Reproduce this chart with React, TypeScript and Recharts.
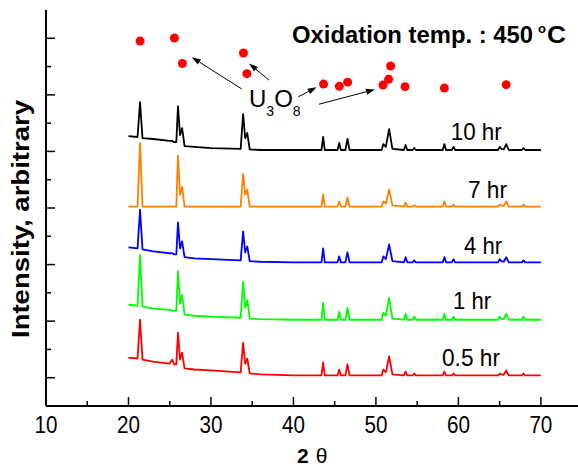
import { ComposedChart, Line, Scatter, XAxis, YAxis, ReferenceLine, ReferenceDot } from 'recharts';

const FONT = '"Liberation Sans", Arial, Helvetica, sans-serif';

// 2-theta grid shared by all five patterns
const angles = [
  20, 21.1, 21.4, 21.7, 23, 25.0, 25.3, 25.55, 25.8, 26.0, 26.25, 26.5, 26.8, 28, 30,
  33.6, 33.9, 34.15, 34.4, 34.7, 36, 40, 43.4, 43.6, 43.8, 45.35, 45.55, 45.75, 46.3, 46.55,
  46.8, 50.7, 50.9, 51.2, 51.6, 52.0, 53.4, 53.6, 53.8, 54.45, 54.65, 54.85, 58.1, 58.3, 58.5,
  59.2, 59.4, 59.6, 64.8, 65.0, 65.2, 65.5, 65.8, 66.1, 67.7, 67.9, 68.1, 70,
];

// intensities above each pattern's own baseline
const hr05 = [
  63, 60, 197, 56, 49, 42, 56, 39, 39, 151, 56, 81, 25, 21, 18,
  11, 116, 42, 60, 7, 4, 0, 0, 46, 0, 0, 21, 0, 0, 39,
  0, 0, 21, 11, 67, 4, 0, 14, 0, 0, 7, 0, 0, 14, 0,
  0, 7, 0, 0, 7, 4, 2, 18, 0, 0, 7, 0, 0,
];
const hr1 = [
  53, 49, 229, 46, 39, 35, 32, 32, 32, 172, 56, 88, 18, 14, 11,
  7, 134, 42, 70, 4, 2, 0, 0, 60, 0, 0, 28, 0, 0, 42,
  0, 0, 25, 14, 77, 4, 0, 21, 0, 0, 11, 0, 0, 21, 0,
  0, 11, 0, 0, 11, 4, 2, 21, 0, 0, 11, 0, 0,
];
const hr4 = [
  53, 49, 186, 46, 39, 32, 32, 28, 28, 141, 49, 74, 18, 14, 11,
  7, 109, 35, 56, 4, 2, 0, 0, 49, 0, 0, 21, 0, 0, 35,
  0, 0, 21, 11, 63, 4, 0, 18, 0, 0, 7, 0, 0, 18, 0,
  0, 11, 0, 0, 11, 4, 2, 18, 0, 0, 7, 0, 0,
];
const hr7 = [
  0, 0, 225, 0, 0, 0, 0, 0, 0, 180, 42, 70, 0, 0, 0,
  0, 116, 42, 60, 0, 0, 0, 0, 42, 0, 0, 18, 0, 0, 32,
  0, 0, 18, 11, 60, 4, 0, 14, 0, 0, 5, 0, 0, 18, 0,
  0, 7, 0, 0, 7, 4, 2, 18, 0, 0, 7, 0, 0,
];
const hr10 = [
  49, 46, 169, 42, 39, 32, 32, 28, 28, 155, 53, 77, 14, 11, 7,
  4, 127, 42, 60, 2, 0, 0, 0, 46, 0, 0, 25, 0, 0, 39,
  0, 0, 21, 11, 74, 4, 0, 18, 0, 0, 7, 0, 0, 21, 0,
  0, 11, 0, 0, 11, 4, 2, 21, 0, 0, 7, 0, 0,
];

// vertical stacking of the patterns
const offsets = [108, 305, 508, 705, 905];
const seriesKeys = ['hr05', 'hr1', 'hr4', 'hr7', 'hr10'];
const seriesNames = ['0.5 hr', '1 hr', '4 hr', '7 hr', '10 hr'];
const seriesColors = ['#ff0000', '#00ff00', '#0000ff', '#ff8000', '#000000'];
const seriesValues = [hr05, hr1, hr4, hr7, hr10];

// U3O8 reflections marked with red dots
const u3o8Angles = [21.41, 25.57, 26.54, 33.94, 34.36, 43.65, 45.56, 46.57, 50.86, 51.54, 51.78, 53.53, 58.3, 65.79];
const u3o8Levels = [1290, 1301, 1211, 1248, 1175, 1138, 1130, 1145, 1135, 1155, 1202, 1129, 1124, 1136];

const xTicks = [10, 15, 20, 25, 30, 35, 40, 45, 50, 55, 60, 65, 70];
const yTicks = [0, 100, 200, 300, 400, 500, 600, 700, 800, 900, 1000, 1100, 1200, 1300, 1400];

// label anchors (data coords)
const labelSpots = [
  { x: 58.01, y: 140, w: 58 },
  { x: 59.35, y: 343, w: 38 },
  { x: 60.68, y: 537, w: 38 },
  { x: 61.16, y: 735, w: 39 },
  { x: 59.07, y: 942, w: 51 },
];
const arrows = [
  { from: [33.73, 1121], to: [27.67, 1233] },
  { from: [37.04, 1152], to: [34.61, 1211] },
  { from: [40.59, 1093], to: [42.82, 1127] },
  { from: [43.1, 1067], to: [49.89, 1119] },
];

const table = angles.map((a, i) => {
  const row: any = { angle: a };
  seriesKeys.forEach((k, s) => {
    row[k] = offsets[s] + seriesValues[s][i];
  });
  return row;
});

const dots = u3o8Angles.map((a, i) => ({ angle: a, level: u3o8Levels[i] }));

const BottomTick = (props: any) => {
  const { x, y, payload } = props;
  const major = payload.value % 10 === 0;
  return (
    <g>
      <line x1={x} y1={y} x2={x} y2={y - (major ? 9 : 5)} stroke="#000" strokeWidth={1.5} />
      {major && (
        <text x={x} y={y + 27} textAnchor="middle" fontSize={23} fontFamily={FONT} fill="#000"
          textLength={23} lengthAdjust="spacingAndGlyphs">
          {payload.value}
        </text>
      )}
    </g>
  );
};

const TopTick = (props: any) => {
  const { x, y, payload } = props;
  const major = payload.value % 10 === 0;
  return <line x1={x} y1={y} x2={x} y2={y + (major ? 9 : 5)} stroke="#000" strokeWidth={1.5} />;
};

const LeftTick = (props: any) => {
  const { x, y, payload } = props;
  if (payload.value === 0 || payload.value === 1400) return <g />;
  const major = (payload.value / 100) % 2 === 1;
  return <line x1={x} y1={y} x2={x + (major ? 9 : 5)} y2={y} stroke="#000" strokeWidth={1.5} />;
};

const Arrow = (p: any) => {
  const { x1, y1, x2, y2 } = p;
  const ang = Math.atan2(y2 - y1, x2 - x1);
  const len = 9;
  const half = 3;
  const bx = x2 - len * Math.cos(ang);
  const by = y2 - len * Math.sin(ang);
  const px = -Math.sin(ang) * half;
  const py = Math.cos(ang) * half;
  return (
    <g>
      <line x1={x1} y1={y1} x2={bx} y2={by} stroke="#000" strokeWidth={1} />
      <polygon points={`${x2},${y2} ${bx + px},${by + py} ${bx - px},${by - py}`} fill="#000" />
    </g>
  );
};

export default function App() {
  return (
    <div style={{ position: 'absolute', left: 0, top: 0, background: '#fff' }}>
      <ComposedChart width={578} height={470} data={table}
        margin={{ top: 10, right: 0, bottom: 34, left: 10 }} style={{ fontFamily: FONT }}>
        <XAxis xAxisId="b" dataKey="angle" type="number" domain={[10, 74.5]} allowDataOverflow
          ticks={xTicks} interval={0} tick={BottomTick} tickLine={false} tickSize={0} tickMargin={0}
          axisLine={{ stroke: '#000', strokeWidth: 2 }} height={30}
          label={{
            content: () => (
              <text x={297} y={463} fontFamily={FONT} fill="#000">
                <tspan fontSize={21} fontWeight="bold">2</tspan>
                <tspan dx={7} fontSize={21}>θ</tspan>
              </text>
            ),
          }} />
        <XAxis xAxisId="t" orientation="top" dataKey="angle" type="number" domain={[10, 74.5]} allowDataOverflow
          ticks={xTicks} interval={0} tick={TopTick} tickLine={false} tickSize={0} tickMargin={0}
          axisLine={{ stroke: '#000', strokeWidth: 2 }} height={0} />
        <YAxis type="number" domain={[0, 1400]} ticks={yTicks} interval={0} width={36}
          tick={LeftTick} tickLine={false} tickSize={0} tickMargin={0}
          axisLine={{ stroke: '#000', strokeWidth: 2 }}
          label={{
            content: () => (
              <text x={29} y={219} transform="rotate(-90 29 219)" textAnchor="middle" fontSize={23}
                fontWeight="bold" fontFamily={FONT} fill="#000" textLength={238} lengthAdjust="spacingAndGlyphs">
                Intensity, arbitrary
              </text>
            ),
          }} />
        {seriesKeys.map((k, s) => (
          <Line key={k} xAxisId="b" type="linear" dataKey={k} stroke={seriesColors[s]} strokeWidth={1.8}
            strokeLinejoin="round" dot={false} activeDot={false} isAnimationActive={false} />
        ))}
        <Scatter xAxisId="b" data={dots} dataKey="level" isAnimationActive={false}
          shape={(p: any) => <circle cx={p.cx} cy={p.cy} r={4.5} fill="#ff0000" />} />
        {arrows.map((a, i) => (
          <ReferenceLine key={`arr-${i}`} xAxisId="b"
            segment={[{ x: a.from[0], y: a.from[1] }, { x: a.to[0], y: a.to[1] }]}
            shape={Arrow} />
        ))}
        <ReferenceDot xAxisId="b" x={34.61} y={1057} r={0}
          shape={(p: any) => (
            <text x={p.cx} y={p.cy} fontFamily={FONT} fill="#000" fontSize={24}>
              U<tspan fontSize={14} dy={9}>3</tspan><tspan fontSize={24} dy={-9}>O</tspan><tspan fontSize={14} dy={9}>8</tspan>
            </text>
          )} />
        <ReferenceDot xAxisId="b" x={39.83} y={1283} r={0}
          shape={(p: any) => (
            <g fontFamily={FONT} fill="#000" fontWeight="bold">
              <text x={p.cx} y={p.cy} fontSize={23} textLength={241} lengthAdjust="spacingAndGlyphs">
                Oxidation temp. : 450
              </text>
              <text x={p.cx + 246} y={p.cy - 10} fontSize={13}>o</text>
              <text x={p.cx + 255} y={p.cy} fontSize={23} textLength={19} lengthAdjust="spacingAndGlyphs">C</text>
            </g>
          )} />
        {labelSpots.map((l, s) => (
          <ReferenceDot key={`lab-${s}`} xAxisId="b" x={l.x} y={l.y} r={0}
            shape={(p: any) => (
              <text x={p.cx} y={p.cy} fontSize={24} fontFamily={FONT} fill="#000"
                textLength={l.w} lengthAdjust="spacingAndGlyphs">
                {seriesNames[s]}
              </text>
            )} />
        ))}
      </ComposedChart>
    </div>
  );
}
